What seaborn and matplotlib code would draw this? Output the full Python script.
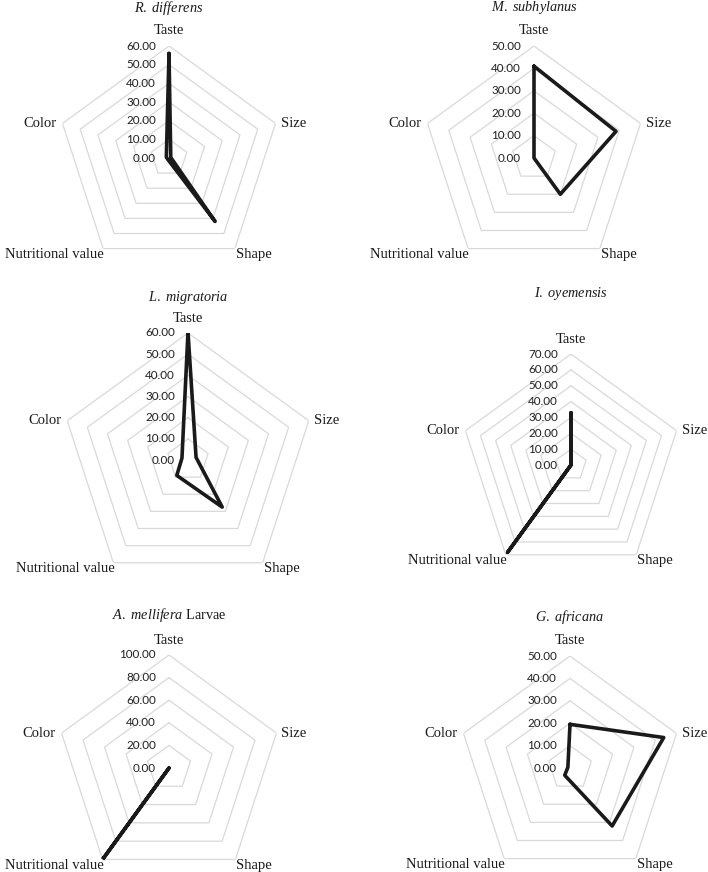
import numpy as np
import pandas as pd
import matplotlib
matplotlib.use("Agg")
import matplotlib.pyplot as plt
import seaborn as sns

# criteria, clockwise from the top
criteria = ["Taste", "Size", "Shape", "Nutritional value", "Color"]

# scores
r_differens = [56.0, 1.0, 42.0, 1.0, 1.5]
m_subhylanus = [41.0, 38.5, 20.0, 0.0, 0.0]
l_migratoria = [60.5, 4.0, 27.5, 9.0, 3.0]
i_oyemensis = [33.0, 0.0, 0.0, 68.0, 0.0]
a_mellifera = [0.0, 0.0, 0.0, 100.0, 0.0]
g_africana = [19.5, 44.0, 32.0, 4.0, 1.0]

titles = [r"$\mathit{R.\ differens}$", r"$\mathit{M.\ subhylanus}$",
          r"$\mathit{L.\ migratoria}$", r"$\mathit{I.\ oyemensis}$",
          r"$\mathit{A.\ mellifera}$ Larvae", r"$\mathit{G.\ africana}$"]
series = [r_differens, m_subhylanus, l_migratoria, i_oyemensis, a_mellifera, g_africana]
axis_max = [60, 50, 60, 70, 100, 50]
axis_step = [10, 10, 10, 10, 20, 10]

# panel layout in pixels: centre x, centre y, outer radius, title y
panels = [(169, 158, 112, 8), (534, 158, 112, 8),
          (188, 460, 127, 297), (571, 465, 111, 293),
          (169, 768, 113, 615), (570, 768, 112, 617)]

sns.set_theme(style="white")
plt.rcParams["font.family"] = ["Liberation Serif", "DejaVu Serif"]
plt.rcParams["mathtext.fontset"] = "custom"
plt.rcParams["mathtext.rm"] = "Liberation Serif"
plt.rcParams["mathtext.it"] = "Liberation Serif:italic"

W, H = 708, 872
fig = plt.figure(figsize=(W / 100, H / 100), dpi=100)
fig.patch.set_facecolor("white")

angles = np.linspace(0, 2 * np.pi, len(criteria), endpoint=False)
closed = np.append(angles, 2 * np.pi)

# label offsets in pixels and alignment per criterion
lab_style = {
    "Taste": ((0, 15), "center", "center"),
    "Size": ((5, 0), "left", "center"),
    "Shape": ((1, -6), "left", "center"),
    "Nutritional value": ((1, -6), "right", "center"),
    "Color": ((-6, 0), "right", "center"),
}

for vals, title, vmax, step, (cx, cy, R, ty) in zip(series, titles, axis_max, axis_step, panels):
    ax = fig.add_axes([(cx - R) / W, 1 - (cy + R) / H, 2 * R / W, 2 * R / H], projection="polar")
    ax.set_theta_zero_location("N")
    ax.set_theta_direction(-1)
    ax.set_ylim(0, vmax)
    ax.set_facecolor("none")
    ax.grid(False)
    ax.spines["polar"].set_visible(False)

    rings = np.arange(0, vmax + step / 2, step)
    for rv in rings[1:]:
        ax.plot(closed, [rv] * len(closed), color="#d9d9d9", lw=0.9, zorder=1)

    df = pd.DataFrame({"theta": closed, "score": list(vals) + [vals[0]]})
    sns.lineplot(data=df, x="theta", y="score", sort=False, estimator=None, ax=ax,
                 color="#1a1a1a", linewidth=2.6, solid_joinstyle="round",
                 solid_capstyle="round", zorder=3)
    ax.set_xlabel("")
    ax.set_ylabel("")
    ax.set_xticks([])
    ax.set_yticks([])

    for rv in rings:
        ax.annotate(f"{rv:.2f}", xy=(0, rv), xytext=(-13, 0), textcoords="offset pixels",
                    ha="right", va="center", fontsize=8.4, family=["Lato", "DejaVu Sans"],
                    color="#1f1f1f", annotation_clip=False)

    for ang, name in zip(angles, criteria):
        off, ha, va = lab_style[name]
        ax.annotate(name, xy=(ang, vmax), xytext=off, textcoords="offset pixels",
                    ha=ha, va=va, fontsize=10.5, color="#1a1a1a", annotation_clip=False)

    fig.text(cx / W, 1 - ty / H, title, ha="center", va="center", fontsize=10.3, color="#1a1a1a")

fig.savefig("out.png", dpi=100, facecolor="white")
